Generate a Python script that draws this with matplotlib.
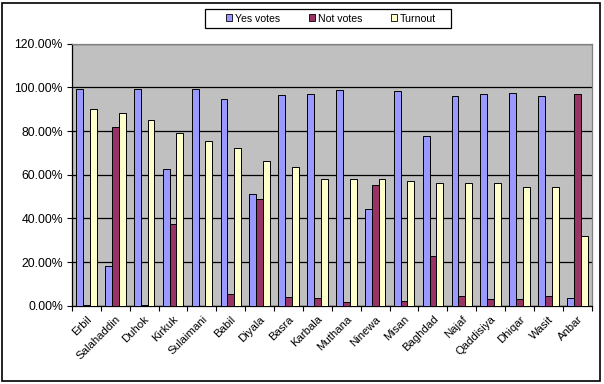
import matplotlib
matplotlib.use("Agg")
import matplotlib.pyplot as plt
import numpy as np
from matplotlib.patches import Rectangle
from matplotlib.ticker import FuncFormatter

# provinces and vote shares (percent)
provinces = ["Erbil", "Salahaddin", "Duhok", "Kirkuk", "Sulaimani", "Babil", "Diyala",
             "Basra", "Karbala", "Muthana", "Ninewa", "Misan", "Baghdad", "Najaf",
             "Qaddisiya", "Dhiqar", "Wasit", "Anbar"]
yes_votes = [99.4, 18.0, 99.4, 62.7, 99.1, 94.5, 51.3, 96.3, 96.8, 98.6, 44.1, 98.2,
             77.6, 95.9, 96.8, 97.3, 95.9, 3.4]
not_votes = [0.5, 81.7, 0.5, 37.3, 0.0, 5.2, 48.7, 3.8, 3.4, 1.5, 55.1, 2.0,
             22.6, 4.3, 2.9, 2.9, 4.3, 96.8]
turnout = [89.9, 88.1, 85.0, 78.9, 75.3, 72.1, 66.1, 63.4, 57.9, 57.9, 57.9, 57.0,
           56.0, 56.0, 56.0, 54.2, 54.2, 31.8]

plt.rcParams['font.family'] = ['Liberation Sans', 'DejaVu Sans']

W, H = 604, 384
fig = plt.figure(figsize=(W / 100, H / 100), dpi=100)
ax = fig.add_axes([0.1192, 0.2039, 0.9797 - 0.1192, 0.8862 - 0.2039])
ax.set_facecolor("#C0C0C0")

x = np.arange(len(provinces))
w = 0.237
ax.bar(x - w, yes_votes, w, color="#9999FF", edgecolor="black", linewidth=0.7, label="Yes votes", zorder=3)
ax.bar(x, not_votes, w, color="#993366", edgecolor="black", linewidth=0.7, label="Not votes", zorder=3)
ax.bar(x + w, turnout, w, color="#FFFFCC", edgecolor="black", linewidth=0.7, label="Turnout", zorder=3)

ax.set_xlim(-0.5, len(provinces) - 0.5)
ax.set_ylim(0, 120)
ax.set_yticks(np.arange(0, 121, 20))
ax.yaxis.set_major_formatter(FuncFormatter(lambda v, p: "%.2f%%" % v))
ax.yaxis.grid(True, color="black", linewidth=0.9, zorder=1)
ax.set_axisbelow(True)

ax.set_xticks(x)
ax.set_xticklabels(provinces, rotation=45, ha="right", rotation_mode="anchor")
ax.set_xticks(np.arange(-0.5, len(provinces)), minor=True)
ax.tick_params(axis="x", which="major", length=0, labelsize=8.2, pad=6)
ax.tick_params(axis="x", which="minor", length=3.5, width=0.8, direction="out")
ax.tick_params(axis="y", length=3.5, width=0.8, labelsize=8.8, pad=3)

for s in ["top", "right"]:
    ax.spines[s].set_color("#808080")
    ax.spines[s].set_linewidth(0.9)
for s in ["left", "bottom"]:
    ax.spines[s].set_color("black")
    ax.spines[s].set_linewidth(0.9)

# legend: entries spread inside the box, frame drawn separately
leg = fig.legend(loc="center", bbox_to_anchor=(226 / W, 1 - 28 / H, 210 / W, 19 / H),
                 mode="expand", ncol=3, fontsize=7.6, frameon=False,
                 handlelength=0.6, handleheight=0.6, handletextpad=0.25,
                 borderpad=0, borderaxespad=0)
for p in leg.get_patches():
    p.set_edgecolor("black")
    p.set_linewidth(0.6)
fig.patches.append(Rectangle((205 / W, 1 - 28 / H), 246 / W, 19 / H, transform=fig.transFigure,
                             fill=False, edgecolor="black", linewidth=0.9))

fig.patches.append(Rectangle((0.004, 0.008), 0.99, 0.985, transform=fig.transFigure,
                             fill=False, edgecolor="black", linewidth=1.2))

fig.savefig("out.png", dpi=100)
